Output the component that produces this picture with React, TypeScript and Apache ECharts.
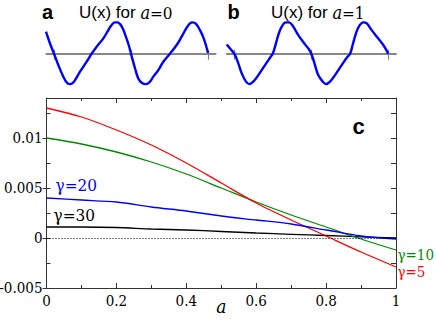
import React, { useEffect, useRef } from "react";
import * as echarts from "echarts";

// ---- panel c data ----
const A_VALUES = [0, 0.1, 0.2, 0.3, 0.4, 0.5, 0.6, 0.7, 0.8, 0.9, 1];
const GAMMA5 = [0.013, 0.0121, 0.0108, 0.0093, 0.0075, 0.0055, 0.0035, 0.0018, 0.0002, -0.0014, -0.0029];
const GAMMA10 = [0.01, 0.0094, 0.0086, 0.0076, 0.0064, 0.005, 0.0036, 0.0023, 0.0011, -0.0001, -0.0012];
const GAMMA20 = [0.004, 0.0038, 0.0036, 0.0031, 0.0027, 0.0022, 0.0018, 0.0014, 0.0008, 0.0002, -0.0001];
const GAMMA30 = [0.0011, 0.0011, 0.00105, 0.0009, 0.0008, 0.00065, 0.0005, 0.00037, 0.00025, 0.00012, 0.0];
const Y_LABEL_TICKS = [-0.005, 0, 0.005, 0.01];
const Y_ALL_TICKS = [-0.005, -0.0025, 0, 0.0025, 0.005, 0.0075, 0.01, 0.0125];
const GAMMA_LABELS = ["γ=5", "γ=10", "γ=20", "γ=30"];

// ---- panel a / b data: U(x) ----
const PANEL_TICKS = [0, 1, 2];
const PANEL_A_X = [-0.104, -0.052, 0, 0.056, 0.121, 0.165, 0.199, 0.238, 0.273, 0.338, 0.424, 0.489, 0.554, 0.641, 0.706, 0.749, 0.792, 0.823, 0.861, 0.896, 0.926, 0.97, 1.0,
  1.052, 1.095, 1.139, 1.195, 1.247, 1.29, 1.355, 1.42, 1.506, 1.593, 1.658, 1.723, 1.766, 1.8, 1.844, 1.896, 1.948, 2.0];
const PANEL_A_U = [0.71, 0.33, 0, -0.366, -0.742, -0.925, -0.98, -0.957, -0.85, -0.58, -0.258, 0, 0.226, 0.495, 0.763, 0.925, 1.01, 1.01, 0.946, 0.796, 0.6, 0.28, 0,
  -0.47, -0.8, -0.935, -0.98, -0.9, -0.74, -0.53, -0.26, 0, 0.28, 0.55, 0.84, 0.98, 1.01, 0.96, 0.76, 0.47, 0.02];
const PANEL_B_X = [-0.099, -0.056, 0, 0.052, 0.096, 0.152, 0.195, 0.247, 0.312, 0.399, 0.464, 0.499, 0.529, 0.571, 0.616, 0.668, 0.71, 0.758, 0.831, 0.918, 0.961, 1.0,
  1.048, 1.09, 1.148, 1.19, 1.243, 1.308, 1.395, 1.46, 1.503, 1.537, 1.58, 1.623, 1.675, 1.72, 1.784, 1.87, 1.935, 2.0];
const PANEL_B_U = [0.3, 0.17, 0, -0.31, -0.63, -0.9, -0.98, -0.9, -0.69, -0.366, -0.13, 0, 0.226, 0.6, 0.87, 1.01, 1.01, 0.9, 0.6, 0.3, 0.17, 0,
  -0.366, -0.69, -0.9, -0.98, -0.9, -0.69, -0.366, -0.13, 0, 0.28, 0.656, 0.9, 1.01, 0.98, 0.76, 0.49, 0.28, 0];

const SANS = "Liberation Sans";
const SERIF = "DejaVu Serif Condensed, DejaVu Serif";
const AX = "#333";
const PANEL_AX = "#808080";

function zip(xs: number[], ys: number[]) {
  return xs.map((x, i) => [x, ys[i]]);
}

export default function App() {
  const ref = useRef<HTMLDivElement>(null);
  useEffect(() => {
    const chart = echarts.init(ref.current!, null, { renderer: "svg" });
    const mainX = (top: boolean) => ({
      type: "value",
      gridIndex: 0,
      position: top ? "top" : "bottom",
      min: 0,
      max: 1,
      interval: 0.2,
      axisLine: { show: true, onZero: false, lineStyle: { color: AX, width: 1 } },
      axisTick: { show: true, inside: true, length: 5, lineStyle: { color: AX } },
      minorTick: { show: true, splitNumber: 2, length: 3, lineStyle: { color: AX } },
      axisLabel: top
        ? { show: false }
        : { show: true, fontFamily: SERIF, fontSize: 15, color: "#000", margin: 5 },
      splitLine: { show: false },
      minorSplitLine: { show: false },
      ...(top
        ? {}
        : {
            name: "a",
            nameLocation: "middle",
            nameGap: 8,
            nameMoveOverlap: false,
            nameTextStyle: { fontFamily: SERIF, fontStyle: "italic", fontSize: 19, color: "#000" },
          }),
    });
    const panelX = (grid: number, inside: boolean, yIdx: number) => ({
      type: "value",
      gridIndex: grid,
      position: "bottom",
      min: -0.1,
      max: 2.1,
      axisLine: { show: true, onZero: true, onZeroAxisIndex: yIdx, lineStyle: { color: PANEL_AX, width: 1.5 } },
      axisTick: { show: true, inside, length: inside ? 4 : 6, customValues: PANEL_TICKS, lineStyle: { color: PANEL_AX, width: 1.2 } },
      axisLabel: { show: false },
      splitLine: { show: false },
    });
    const panelY = (grid: number) => ({
      type: "value",
      gridIndex: grid,
      min: -1.1,
      max: 1.1,
      show: false,
      splitLine: { show: false },
    });
    const line = (data: number[], color: string, name: string, extra: any = {}) => ({
      type: "line",
      name,
      xAxisIndex: 0,
      yAxisIndex: 0,
      data: zip(A_VALUES, data),
      smooth: 0.3,
      showSymbol: false,
      symbol: "none",
      lineStyle: { color, width: 1.3 },
      itemStyle: { color },
      ...extra,
    });
    const t = (text: string, x: number, baseline: number, size: number, color: string, font = SERIF, weight = "normal") => ({
      type: "text",
      x,
      y: baseline - 0.32 * size,
      style: {
        text,
        fill: color,
        fontFamily: font,
        fontSize: size,
        fontWeight: weight,
        verticalAlign: "middle",
        align: "left",
      },
    });
    const title = (x: number, val: string) => ({
      type: "text",
      x,
      y: 18.3 - 0.32 * 17,
      style: {
        text: `{s|U(x) for }{i|a}{n|=${val}}`,
        verticalAlign: "middle",
        align: "left",
        fill: "#000",
        rich: {
          s: { fontFamily: SANS, fontSize: 17, fill: "#000" },
          i: { fontFamily: SERIF, fontStyle: "italic", fontSize: 18, fill: "#000" },
          n: { fontFamily: SERIF, fontSize: 17, fill: "#000" },
        },
      },
    });
    const gridBase = { containLabel: false, outerBoundsMode: "none" };
    const option: any = {
      animation: false,
      backgroundColor: "#fff",
      grid: [
        { ...gridBase, left: 46.5, top: 98, width: 349.5, height: 190 },
        { ...gridBase, left: 46.3, top: 19.6, width: 169.4, height: 68.2 },
        { ...gridBase, left: 226.6, top: 19.6, width: 169.4, height: 68.2 },
      ],
      xAxis: [mainX(false), mainX(true), panelX(1, true, 3), panelX(1, false, 4), panelX(2, true, 5), panelX(2, false, 6)],
      yAxis: [
        {
          type: "value",
          gridIndex: 0,
          position: "left",
          min: -0.005,
          max: 0.014,
          axisLine: { show: true, onZero: false, lineStyle: { color: AX, width: 1 } },
          axisTick: { show: true, inside: false, length: 4, customValues: Y_LABEL_TICKS, lineStyle: { color: AX } },
          axisLabel: { show: true, customValues: Y_LABEL_TICKS, fontFamily: SERIF, fontSize: 15, color: "#000", margin: 4 },
          splitLine: { show: false },
        },
        {
          type: "value",
          gridIndex: 0,
          position: "left",
          min: -0.005,
          max: 0.014,
          axisLine: { show: false, onZero: false },
          axisTick: { show: true, inside: true, length: 4, customValues: Y_ALL_TICKS, lineStyle: { color: AX } },
          axisLabel: { show: false },
          splitLine: { show: false },
        },
        {
          type: "value",
          gridIndex: 0,
          position: "right",
          min: -0.005,
          max: 0.014,
          axisLine: { show: true, onZero: false, lineStyle: { color: AX, width: 1 } },
          axisTick: { show: true, inside: true, length: 5, customValues: Y_ALL_TICKS, lineStyle: { color: AX } },
          axisLabel: { show: false },
          splitLine: { show: false },
        },
        panelY(1),
        panelY(1),
        panelY(2),
        panelY(2),
      ],
      series: [
        line(GAMMA30, "#000000", GAMMA_LABELS[3], {
          markLine: {
            silent: true,
            symbol: "none",
            label: { show: false },
            lineStyle: { color: "#000", type: [1, 2], width: 1 },
            data: [{ yAxis: 0 }],
          },
        }),
        line(GAMMA10, "#008a00", GAMMA_LABELS[1]),
        line(GAMMA5, "#ff0000", GAMMA_LABELS[0]),
        line(GAMMA20, "#0000ff", GAMMA_LABELS[2]),
        {
          type: "line",
          xAxisIndex: 2,
          yAxisIndex: 3,
          data: zip(PANEL_A_X, PANEL_A_U),
          smooth: 0.4,
          showSymbol: false,
          symbol: "none",
          lineStyle: { color: "#0000ff", width: 2.4 },
        },
        {
          type: "line",
          xAxisIndex: 4,
          yAxisIndex: 5,
          data: zip(PANEL_B_X, PANEL_B_U),
          smooth: 0.4,
          showSymbol: false,
          symbol: "none",
          lineStyle: { color: "#0000ff", width: 2.4 },
        },
      ],
      graphic: [
        t("a", 42, 18.3, 20, "#000", SANS, "bold"),
        title(79, "0"),
        t("b", 227.5, 18.3, 20, "#000", SANS, "bold"),
        title(271, "1"),
        t("c", 352.5, 134, 22, "#000", SANS, "bold"),
        t(GAMMA_LABELS[2], 55.5, 190.5, 17, "#0000ff"),
        t(GAMMA_LABELS[3], 53.5, 220.5, 17, "#000"),
        t(GAMMA_LABELS[1], 397.5, 259.5, 15, "#008a00"),
        t(GAMMA_LABELS[0], 397.5, 277, 15, "#ff0000"),
      ],
    };
    chart.setOption(option);
    return () => chart.dispose();
  }, []);
  return (
    <div
      ref={ref}
      style={{ position: "absolute", left: 0, top: 0, width: 436, height: 320, background: "#fff" }}
    />
  );
}
